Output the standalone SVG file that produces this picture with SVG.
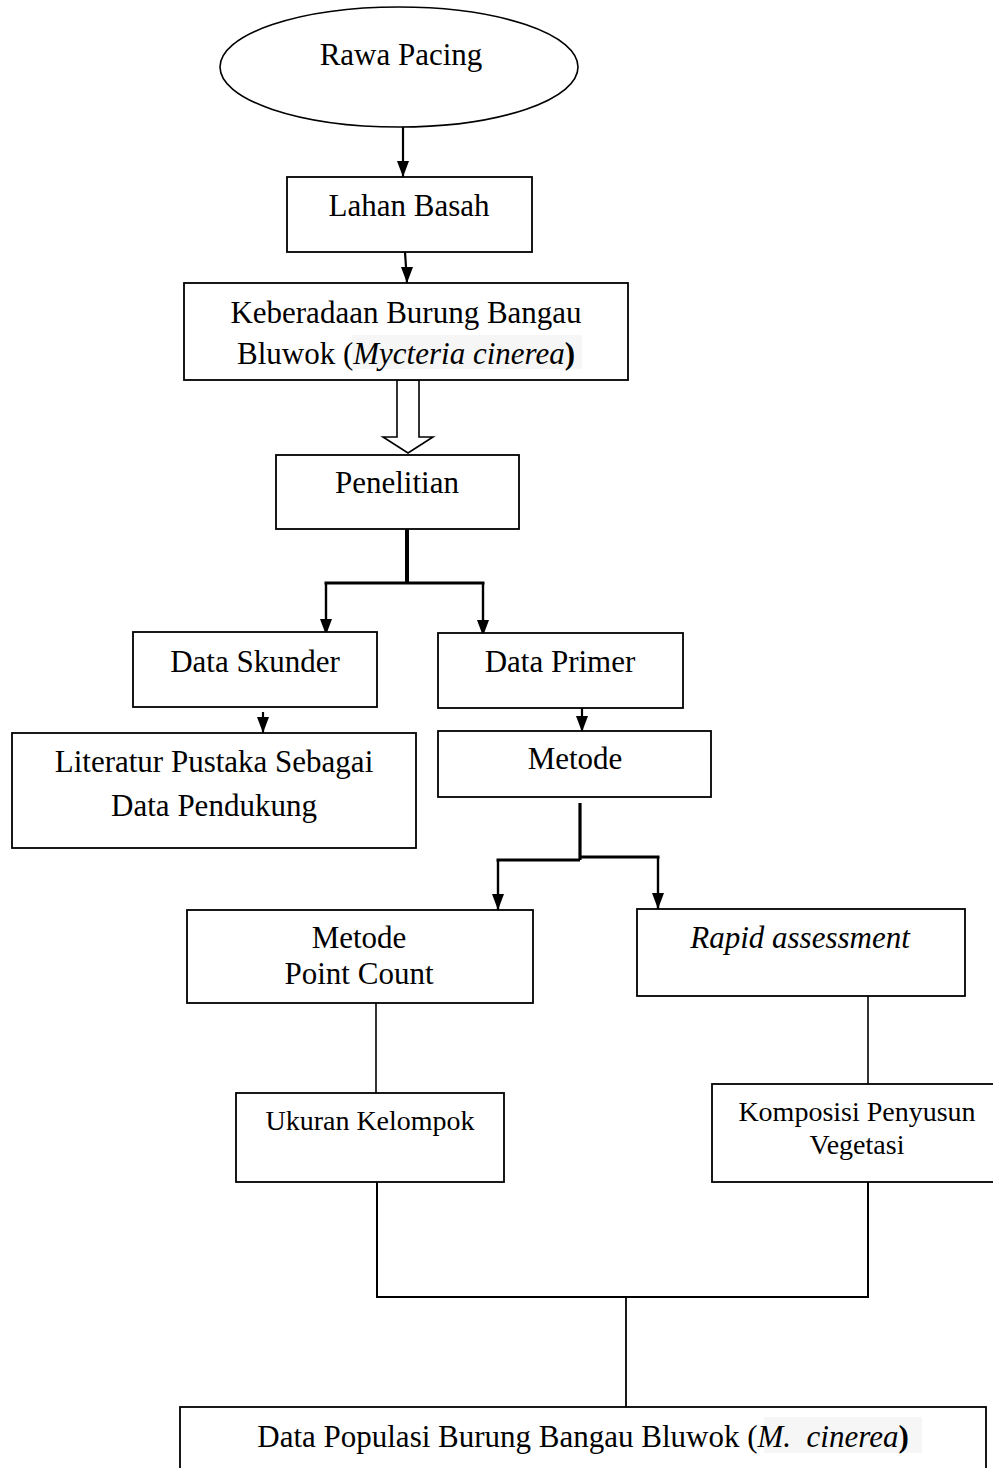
<svg xmlns="http://www.w3.org/2000/svg" width="993" height="1468" viewBox="0 0 993 1468">
<style>
.box{fill:#fff;stroke:#000;stroke-width:1.8}
.t{font-family:"Liberation Serif","Times New Roman",serif;font-size:31px;text-anchor:middle;fill:#000}
.s{font-size:28px}
.i{font-style:italic}
.b{font-weight:bold}
.hl{fill:#f6f6f6}
.c{fill:none;stroke:#000}
</style>
<defs>
<marker id="ah" viewBox="0 0 12 16" markerWidth="12" markerHeight="16" refX="6" refY="16" orient="0" markerUnits="userSpaceOnUse">
<path d="M0,0 L12,0 L6,16 z" fill="#000"/>
</marker>
</defs>
<rect width="993" height="1468" fill="#fff"/>
<g id="connectors">
<path class="c" d="M403,127 V177" stroke-width="2.2" marker-end="url(#ah)"/>
<path class="c" d="M405,252 L407,283" stroke-width="2.2" marker-end="url(#ah)"/>
<polygon points="397,380 419,380 419,437 433,437 408,453 383,437 397,437" fill="#fff" stroke="#000" stroke-width="1.6"/>
<path class="c" d="M407,529 V584" stroke-width="4"/>
<path class="c" d="M324.5,583 H484.5" stroke-width="3.2"/>
<path class="c" d="M326,583 V635" stroke-width="2.4" marker-end="url(#ah)"/>
<path class="c" d="M483,583 V636" stroke-width="2.4" marker-end="url(#ah)"/>
<path class="c" d="M263,712 V733" stroke-width="2.2" marker-end="url(#ah)"/>
<path class="c" d="M582,708 V732" stroke-width="2.2" marker-end="url(#ah)"/>
<path class="c" d="M580,803 V860" stroke-width="3.2"/>
<path class="c" d="M496.5,860 H580" stroke-width="2.8"/>
<path class="c" d="M580,857 H659.5" stroke-width="2.8"/>
<path class="c" d="M498,860 V910" stroke-width="2.4" marker-end="url(#ah)"/>
<path class="c" d="M658,857 V909" stroke-width="2.4" marker-end="url(#ah)"/>
<path class="c" d="M376,1003 V1093" stroke-width="1.6"/>
<path class="c" d="M868,996 V1084" stroke-width="1.6"/>
<path class="c" d="M377,1182 V1297 H868 V1182" stroke-width="2"/>
<path class="c" d="M626,1297 V1407" stroke-width="1.8"/>
</g>
<g id="rawa-pacing">
<ellipse cx="399" cy="67" rx="179" ry="60" fill="#fff" stroke="#000" stroke-width="1.6"/>
<text class="t" x="401" y="65">Rawa Pacing</text>
</g>
<g id="lahan-basah">
<rect class="box" x="287" y="177" width="245" height="75"/>
<text class="t" x="409" y="216">Lahan Basah</text>
</g>
<g id="keberadaan">
<rect class="box" x="184" y="283" width="444" height="97"/>
<rect class="hl" x="352" y="335" width="230" height="34"/>
<text class="t" x="406" y="323">Keberadaan Burung Bangau</text>
<text class="t" x="406" y="364">Bluwok (<tspan class="i">Mycteria cinerea</tspan><tspan class="b">)</tspan></text>
</g>
<g id="penelitian">
<rect class="box" x="276" y="455" width="243" height="74"/>
<text class="t" x="397" y="493">Penelitian</text>
</g>
<g id="data-skunder">
<rect class="box" x="133" y="632" width="244" height="75"/>
<text class="t" x="255" y="672">Data Skunder</text>
</g>
<g id="data-primer">
<rect class="box" x="438" y="633" width="245" height="75"/>
<text class="t" x="560" y="672">Data Primer</text>
</g>
<g id="literatur">
<rect class="box" x="12" y="733" width="404" height="115"/>
<text class="t" x="214" y="772">Literatur Pustaka Sebagai</text>
<text class="t" x="214" y="816">Data Pendukung</text>
</g>
<g id="metode">
<rect class="box" x="438" y="731" width="273" height="66"/>
<text class="t" x="575" y="769">Metode</text>
</g>
<g id="point-count">
<rect class="box" x="187" y="910" width="346" height="93"/>
<text class="t" x="359" y="948">Metode</text>
<text class="t" x="359" y="984">Point Count</text>
</g>
<g id="rapid-assessment">
<rect class="box" x="637" y="909" width="328" height="87"/>
<text class="t i" x="800" y="948">Rapid assessment</text>
</g>
<g id="ukuran-kelompok">
<rect class="box" x="236" y="1093" width="268" height="89"/>
<text class="t s" x="370" y="1130">Ukuran Kelompok</text>
</g>
<g id="komposisi">
<rect class="box" x="712" y="1084" width="290" height="98"/>
<text class="t s" x="857" y="1121">Komposisi Penyusun</text>
<text class="t s" x="857" y="1154">Vegetasi</text>
</g>
<g id="data-populasi">
<rect class="box" x="180" y="1407" width="806" height="80"/>
<rect class="hl" x="764" y="1417" width="158" height="36"/>
<text class="t" x="583" y="1447">Data Populasi Burung Bangau Bluwok (<tspan class="i">M.&#160; cinerea</tspan><tspan class="b">)</tspan></text>
</g>
</svg>
